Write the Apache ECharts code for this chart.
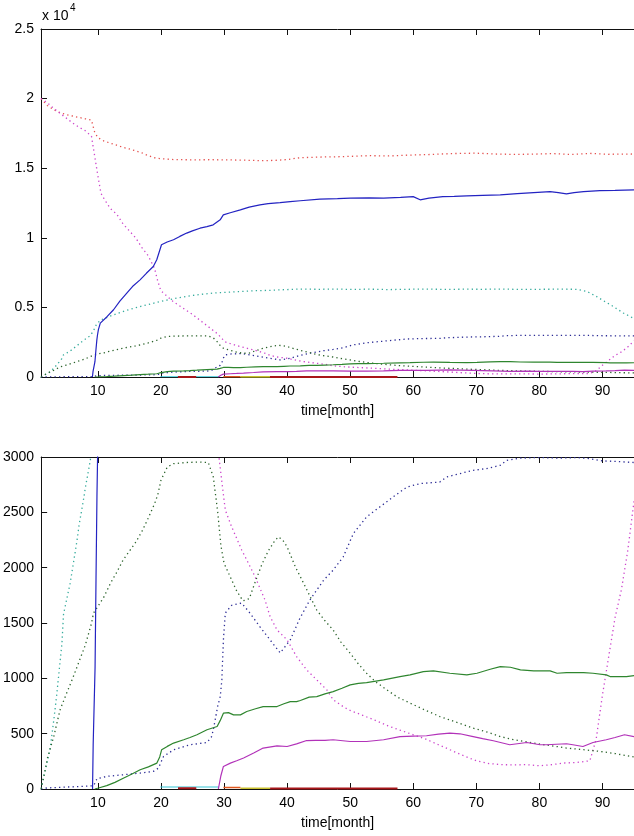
<!DOCTYPE html>
<html>
<head>
<meta charset="utf-8">
<script src="https://cdn.jsdelivr.net/npm/echarts@6/dist/echarts.min.js"></script>
<style>
  html, body { margin: 0; padding: 0; background: #fff; }
  #chart { width: 634px; height: 836px; }
</style>
</head>
<body>
<div id="chart"></div>
<script>
// Tick positions on the time axis (months)
const monthTicks = [10, 20, 30, 40, 50, 60, 70, 80, 90];

// Dotted series: [month, value]
const redDotted = [[1,20000],[2,19500],[3,19200],[4,19000],[5,18850],[6,18750],[7,18650],[8,18550],[9,18450],[9.5,17600],[10,17200],[11,16950],[12,16800],[13,16650],[14,16500],[15,16380],[16,16250],[17,16100],[18,15900],[19,15750],[20,15680],[22,15620],[25,15600],[28,15610],[30,15600],[33,15580],[36,15540],[38,15560],[40,15620],[42,15750],[45,15800],[48,15820],[50,15850],[53,15900],[56,15880],[60,15950],[63,15990],[66,16050],[70,16080],[73,16020],[76,15990],[79,16010],[82,16050],[85,15990],[88,16060],[91,16000],[95,16020]];

const magentaDotted = [[1,20000],[2,19700],[3,19300],[4,18950],[5,18600],[6,18250],[7,17950],[8,17700],[9,17300],[10,14500],[10.5,13200],[11,12800],[12,12100],[13,11700],[14,11000],[15,10500],[16,10000],[17,9300],[18,8700],[19,7800],[19.5,6900],[20,6200],[21,5800],[22,5400],[23,5100],[24,4800],[25,4500],[26,4150],[27,3800],[28,3450],[29,3100],[29.6,2800],[30.2,2520],[31.2,2370],[32.8,2160],[33.6,2070],[34.9,1920],[36.5,1707],[37.3,1557],[38.4,1437],[40,1347],[41.5,1197],[43.1,1076],[44.7,986],[46.3,896],[47.3,806],[49,740],[50,710],[52,665],[54,620],[56,570],[58,530],[60,490],[62,450],[64,400],[66,350],[68,300],[70,255],[72,230],[74,220],[76,218],[78,220],[80,210],[82,220],[84,235],[86,240],[88,255],[89,450],[90,850],[91,1200],[92,1550],[93,1800],[94,2150],[95,2600]];

const cyanDotted = [[1,0],[1.4,114],[2,250],[2.4,354],[3,620],[3.5,866],[4,1150],[4.3,1317],[4.55,1580],[5,1700],[5.6,1860],[6,2000],[6.7,2250],[7,2380],[7.7,2610],[8,2720],[8.8,2970],[9.3,3300],[9.8,3800],[10.5,4100],[11,4200],[13,4550],[15,4850],[17,5100],[20,5430],[22,5620],[24,5790],[26,5920],[28.3,6030],[30,6080],[32.6,6140],[35,6200],[37,6220],[40,6280],[42,6320],[45,6300],[48,6320],[50,6290],[53,6310],[56,6280],[59,6300],[62,6320],[65,6290],[68,6310],[71,6300],[74,6320],[77,6290],[80,6300],[83,6310],[86,6300],[87.5,6150],[89,5800],[89.9,5550],[91.7,5070],[93.3,4600],[95,4200]];

const blueDotted = [[1,0],[2,10],[4,15],[6,20],[8,25],[9.3,30],[9.6,60],[9.84,93],[11.4,114],[14.1,129],[16.7,144],[18.8,159],[19.6,189],[20.4,294],[22,354],[24.6,400],[27.3,420],[28,470],[28.3,535],[29,750],[29.4,835],[29.65,986],[29.9,1350],[30.2,1590],[31.2,1660],[32.8,1680],[34.1,1590],[35.7,1465],[37.3,1347],[38.9,1230],[40.5,1347],[42,1540],[43.6,1707],[45.8,1888],[47.3,1978],[48.9,2098],[50.5,2308],[52.6,2459],[54.7,2549],[56.8,2639],[59,2729],[61.1,2760],[64.2,2774],[65.3,2820],[67.4,2850],[69.5,2880],[71.6,2895],[73.8,2925],[74.8,2970],[77,2990],[80,2995],[83,2990],[86,2995],[88,2985],[90,2965],[92,2960],[95,2950]];

const greenDotted = [[1,0],[1.65,174],[2,280],[3,474],[4,715],[5,860],[6,1000],[7,1150],[8,1300],[9,1500],[9.3,1590],[10,1650],[11,1740],[12,1860],[13,1960],[14,2070],[15,2150],[16,2230],[17,2330],[18,2450],[19,2580],[19.5,2660],[20,2790],[21,2910],[22,2940],[24,2950],[26,2955],[27.5,2950],[28.3,2820],[29,2500],[29.5,2200],[30,2040],[31,1915],[32,1790],[33,1700],[34,1720],[35,1880],[36,2030],[37,2150],[38,2240],[38.6,2278],[39.3,2250],[40,2188],[41.3,2008],[42.1,1918],[43.4,1768],[44.7,1617],[46,1520],[47.3,1437],[48.5,1330],[50,1227],[51.3,1130],[52.6,1046],[54,970],[55.8,896],[57.5,830],[59.5,776],[62,710],[64.2,655],[67,600],[69.5,550],[72,510],[73.8,474],[76,445],[79,415],[82,390],[84.3,370],[87,355],[89.6,340],[92,320],[95,290]];

// Solid series: [month, value]
const blueSolid = [[9.15,0],[9.25,400],[9.55,1100],[9.7,1900],[9.85,2650],[9.95,3000],[10.1,3400],[10.4,3875],[11.5,4350],[12.5,4830],[13.5,5450],[14.6,6030],[15.5,6500],[16.7,6980],[17.7,7450],[18.8,7940],[19.35,8420],[20.1,9500],[21,9700],[22,9860],[23,10100],[24.1,10340],[25,10500],[26.2,10690],[27.3,10800],[28.3,10930],[29.4,11290],[29.9,11650],[31,11800],[32.6,12010],[34,12200],[35.7,12370],[37,12450],[38.9,12530],[40.5,12600],[42.1,12660],[45.2,12780],[48,12820],[50,12850],[53,12870],[55.3,12850],[58,12900],[60,12960],[61.1,12730],[62.5,12850],[64.7,12960],[66.5,12980],[68.5,13010],[71,13050],[73.8,13080],[76.5,13170],[79.1,13250],[81.7,13320],[83,13250],[84.3,13160],[85.5,13250],[87,13320],[89.6,13390],[92,13400],[95,13440]];

const greenSolid = [[9.5,0],[10.1,9],[11.4,30],[12.7,60],[14.1,99],[15.4,135],[16.7,174],[18,200],[19.35,234],[19.8,290],[20.1,354],[21,385],[22,415],[23.6,445],[24.6,465],[25.7,490],[27.3,535],[28.9,565],[29.4,620],[29.9,685],[30.7,690],[31.5,670],[32.6,670],[33.6,700],[35,725],[36.2,745],[38.4,745],[39.5,770],[40.5,790],[41.5,790],[42.1,800],[43.5,830],[44.7,835],[46,860],[47.3,880],[48.7,910],[50,941],[51.3,955],[52.6,961],[55.3,986],[57.9,1016],[59.5,1031],[61.6,1061],[63.2,1067],[65.8,1046],[68.5,1031],[70.1,1046],[72.2,1082],[73.8,1106],[75.4,1100],[77,1076],[79.1,1067],[81.7,1067],[82.8,1046],[84.3,1052],[87,1052],[88.5,1046],[90.6,1031],[91.2,1016],[93.8,1016],[95,1025]];

const magentaSolid = [[29.1,0],[29.5,120],[29.9,204],[31,234],[32,255],[33.1,280],[34.7,325],[36.2,370],[38.4,390],[40,384],[41.5,408],[43.1,438],[44.5,440],[46,440],[47.3,445],[50,429],[52.6,429],[55.3,445],[57.9,474],[60,478],[62.1,481],[64,495],[65.8,505],[67.4,499],[69.5,474],[71,455],[72.7,436],[75.3,400],[78,420],[80.1,400],[81.1,400],[84.3,409],[85.3,400],[86.9,384],[88.5,420],[90.6,445],[92,465],[93.5,490],[95,474]];

const cyanSolid = [[19.9,18],[29.2,18]];
const redSolid = [[22.7,6],[25.6,6],[null,null],[37.3,5],[57.5,5]];
const orangeSolid = [[29.9,14],[32.6,14]];
const yellowSolid = [[32.6,7],[37.3,7]];

const dotted = [1.3, 3.2];
const lineDefs = [
  { name: 'red dotted', data: redDotted, color: '#e4504e', dash: dotted, width: 1.3 },
  { name: 'magenta dotted', data: magentaDotted, color: '#cc44cc', dash: dotted, width: 1.3 },
  { name: 'cyan dotted', data: cyanDotted, color: '#35ab9c', dash: dotted, width: 1.3 },
  { name: 'blue dotted', data: blueDotted, color: '#2b2b95', dash: dotted, width: 1.3 },
  { name: 'green dotted', data: greenDotted, color: '#2b632b', dash: dotted, width: 1.3 },
  { name: 'cyan', data: cyanSolid, color: '#35c6d6', dash: 'solid', width: 1.2 },
  { name: 'yellow', data: yellowSolid, color: '#c9c02e', dash: 'solid', width: 1.6 },
  { name: 'orange', data: orangeSolid, color: '#e0581f', dash: 'solid', width: 1.6 },
  { name: 'red', data: redSolid, color: '#a8161a', dash: 'solid', width: 2 },
  { name: 'magenta', data: magentaSolid, color: '#b232b9', dash: 'solid', width: 1.2 },
  { name: 'green', data: greenSolid, color: '#2f862f', dash: 'solid', width: 1.2 },
  { name: 'blue', data: blueSolid, color: '#2323c2', dash: 'solid', width: 1.2 }
];

const FONT = 'Liberation Sans, Arial, sans-serif';
const axisColor = '#111';

function timeAxis(gridIndex) {
  return [{
    type: 'value', gridIndex, position: 'bottom', min: 1, max: 95,
    name: 'time[month]', nameLocation: 'middle', nameGap: 27,
    nameTextStyle: { fontFamily: FONT, fontSize: 14, color: '#000' },
    axisLine: { onZero: false, lineStyle: { color: axisColor, width: 1 } },
    axisTick: { inside: true, length: 6, customValues: monthTicks, lineStyle: { color: axisColor } },
    axisLabel: { customValues: monthTicks, margin: 7, fontFamily: FONT, fontSize: 14, color: '#000' },
    splitLine: { show: false }
  }, {
    type: 'value', gridIndex, position: 'top', min: 1, max: 95,
    axisLine: { onZero: false, lineStyle: { color: axisColor, width: 1 } },
    axisTick: { inside: true, length: 6, customValues: monthTicks, lineStyle: { color: axisColor } },
    axisLabel: { show: false },
    splitLine: { show: false }
  }];
}

function valueAxis(gridIndex, max, interval, fmt) {
  return {
    type: 'value', gridIndex, min: 0, max, interval,
    axisLine: { show: true, onZero: false, lineStyle: { color: axisColor, width: 1 } },
    axisTick: { show: true, inside: true, length: 6, lineStyle: { color: axisColor } },
    axisLabel: { margin: 7, fontFamily: FONT, fontSize: 14, color: '#000', formatter: fmt },
    splitLine: { show: false }
  };
}

const series = [];
[0, 1].forEach(g => {
  lineDefs.forEach(d => {
    series.push({
      type: 'line', name: d.name, xAxisIndex: g * 2, yAxisIndex: g,
      data: d.data, showSymbol: false, symbol: 'none', connectNulls: false,
      clip: true, animation: false, silent: true,
      lineStyle: { color: d.color, width: d.width, type: d.dash, cap: 'butt' }
    });
  });
});

const chart = echarts.init(document.getElementById('chart'), null, { renderer: 'canvas' });
chart.setOption({
  animation: false,
  backgroundColor: '#fff',
  grid: [
    { left: 41, right: 0, top: 29, height: 348 },
    { left: 41, right: 0, top: 457, height: 332 }
  ],
  xAxis: [...timeAxis(0), ...timeAxis(1)],
  yAxis: [
    valueAxis(0, 25000, 5000, v => String(v / 10000)),
    valueAxis(1, 3000, 500, v => String(v))
  ],
  graphic: [
    { type: 'text', left: 42, top: 9, style: { text: 'x 10', font: '14px ' + FONT, fill: '#000' } },
    { type: 'text', left: 70, top: 3, style: { text: '4', font: '10px ' + FONT, fill: '#000' } }
  ],
  series
});
</script>
</body>
</html>
